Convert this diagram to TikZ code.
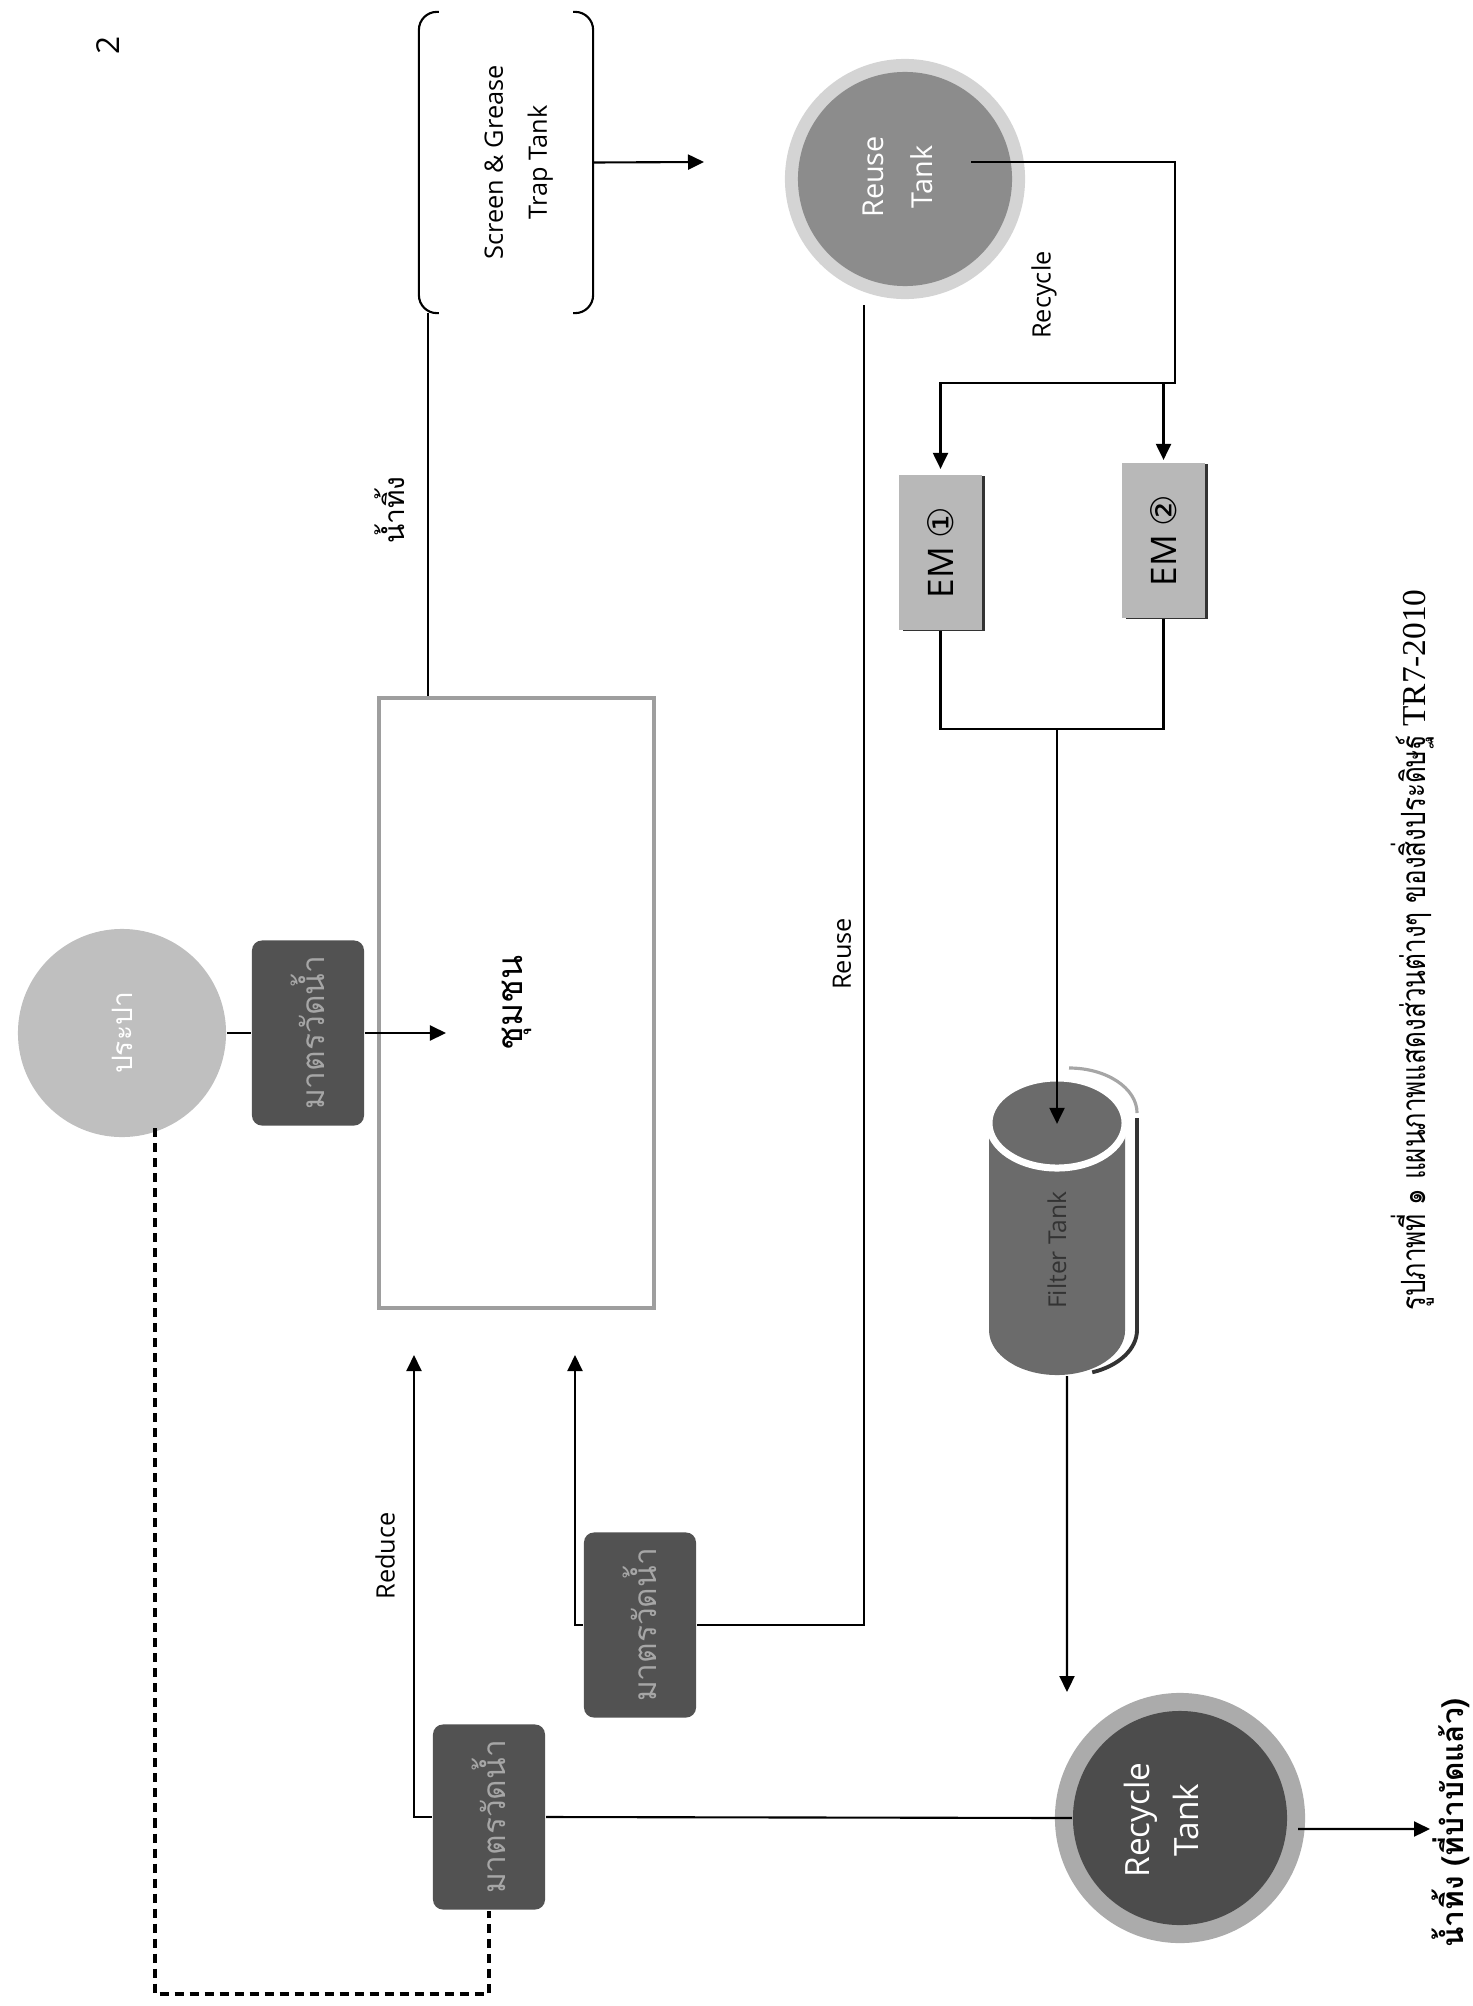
\documentclass[tikz,border=0pt]{standalone}
\usepackage{fontspec}
\setmainfont{Open Sans}
\newfontfamily\thaifont[Script=Thai]{Loma}
\newfontfamily\capthai[Script=Thai, FakeStretch=0.78]{Loma}
\newfontfamily\dejavu{DejaVu Sans}
\newfontfamily\capserif{Liberation Serif}
\usetikzlibrary{arrows.meta,shadows}
\begin{document}
\begin{tikzpicture}[x=0.01cm,y=-0.01cm, line width=0.6pt,
  arr/.style={-{Triangle[length=0.16cm,width=0.15cm]}},
  meter/.style={rounded corners=0.1cm, fill=black!68, minimum width=1.12cm, minimum height=1.85cm, inner sep=0pt, text=black!35, font=\thaifont\fontsize{9}{11}\selectfont},
  emb/.style={fill=black!28, minimum width=0.82cm, minimum height=1.55cm, inner sep=0pt, font=\fontsize{10}{12}\selectfont, drop shadow={shadow xshift=0.035cm, shadow yshift=-0.01cm, opacity=1, fill=black!80}},
  lbl/.style={font=\fontsize{7.2}{9}\selectfont, inner sep=0pt},
  tank/.style={circle, inner sep=0pt, text=white},
  tanktext/.style={inner sep=0pt, text=white},
  dline/.style={line width=1pt, dash pattern=on 0.09cm off 0.06cm},
]
\useasboundingbox (0,0) rectangle (1473,2006);

% page number
\node[inner sep=0pt, font=\fontsize{9}{11}\selectfont] (pg) at (108,45) {\rotatebox{90}{2}};

% Screen & Grease trap tank
\node[minimum width=1.72cm, minimum height=2.99cm, inner sep=0pt] (scr) at (506,162.5) {};
\node[inner sep=0pt, font=\fontsize{7.2}{12.5}\selectfont] (scrt) at (516,162.5)
  {\rotatebox{90}{\begin{tabular}{@{}c@{}}Screen \& Grease\\Trap Tank\end{tabular}}};
\draw[rounded corners=0.18cm] ([xshift=0.2cm]scr.north west) -- (scr.north west) -- (scr.south west) -- ([xshift=0.2cm]scr.south west);
\draw[rounded corners=0.18cm] ([xshift=-0.2cm]scr.north east) -- (scr.north east) -- (scr.south east) -- ([xshift=-0.2cm]scr.south east);

% Reuse tank
\node[tank, minimum size=2.4cm, fill=black!17,
  path picture={\fill[black!45] (path picture bounding box.center) circle (1.07cm);}] (reuse) at (905,179) {};
\node[tanktext, font=\fontsize{8.2}{14}\selectfont] (reuset) at (898,177)
  {\rotatebox{90}{\begin{tabular}{@{}c@{}}Reuse\\Tank\end{tabular}}};

\node[lbl] (lrec) at (1044,295) {\rotatebox{90}{Recycle}};

% EM boxes
\node[emb] (em1) at (940.5,552.5) {\rotatebox{90}{EM {\dejavu ①}}};
\node[emb] (em2) at (1163.5,540.5) {\rotatebox{90}{EM {\dejavu ②}}};

% Filter tank (cylinder)
\fill[black!58] (989,1123) -- (989,1330) arc[start angle=180, end angle=360, x radius=0.68cm, y radius=0.45cm] -- (1125,1123) -- cycle;
\filldraw[fill=black!58, draw=white, line width=0.07cm] (1057,1123) ellipse [x radius=0.68cm, y radius=0.45cm];
\draw[black!35, line width=0.9pt] (1069,1068) arc[start angle=90, end angle=0, x radius=0.68cm, y radius=0.45cm];
\draw[black!80, line width=1.1pt] (1137,1118) -- (1137,1330) arc[start angle=0, end angle=-70, x radius=0.68cm, y radius=0.45cm];
\node[inner sep=0pt, minimum width=1.36cm, minimum height=2.5cm, text=black!80, font=\fontsize{7}{9}\selectfont] (filter) at (1057,1250)
  {\rotatebox{90}{Filter Tank}};

% Recycle tank
\node[tank, minimum size=2.5cm, fill=black!33,
  path picture={\fill[black!70] (path picture bounding box.center) circle (1.07cm);}] (recycle) at (1180,1818) {};
\node[tanktext, font=\fontsize{9.5}{14}\selectfont] (recyclet) at (1164,1820)
  {\rotatebox{90}{\begin{tabular}{@{}c@{}}Recycle\\Tank\end{tabular}}};
\node[inner sep=0pt, font=\thaifont\bfseries\fontsize{8.5}{10}\selectfont] (ltreated) at (1451,1823)
  {\rotatebox{90}{น้ำทิ้ง (ที่บำบัดแล้ว)}};

% tap water and community
\node[tank, minimum size=2.08cm, fill=black!25, font=\thaifont\fontsize{8}{10}\selectfont] (prapa) at (122,1033) {\rotatebox{90}{ประปา}};
\node[meter] (m3) at (308,1033) {\rotatebox{90}{มาตรวัดน้ำ}};
\node[draw=black!38, line width=0.04cm, fill=white, minimum width=2.75cm, minimum height=6.1cm, inner sep=0pt,
  font=\thaifont\fontsize{10}{12}\selectfont] (comm) at (516.5,1003) {\rotatebox{90}{ชุมชน}};
\node[inner sep=0pt, font=\thaifont\fontsize{8}{10}\selectfont] (lwaste) at (390,510) {\rotatebox{90}{น้ำทิ้ง}};

% meters
\node[meter] (m2) at (640,1625) {\rotatebox{90}{มาตรวัดน้ำ}};
\node[meter] (m1) at (489,1817) {\rotatebox{90}{มาตรวัดน้ำ}};
\node[lbl] (lred) at (385,1556) {\rotatebox{90}{Reduce}};
\node[lbl] (lreuse) at (842,954) {\rotatebox{90}{Reuse}};

% caption
\node[inner sep=0pt] (cap) at (1413,950)
  {\rotatebox{90}{\capthai\fontsize{9.5}{11}\selectfont รูปภาพที่ ๑ แผนภาพแสดงส่วนต่างๆ ของสิ่งประดิษฐ์ {\capserif TR7-2010}}};

% coordinates for free ends
\coordinate (a1) at (704,162);
\coordinate (sp) at (1175,383);
\coordinate (jn) at (1058,383);
\coordinate (jn2) at (1057,729);
\coordinate (rin) at (1067,1692);
\coordinate (out) at (1430,1829);
\coordinate (a2) at (446,1033);
\coordinate (a3) at (414,1355);
\coordinate (a4) at (575,1355);
\coordinate (dc) at (489,1994);

% connectors
\draw[arr] (scr.east) -- (a1);
\draw (reuse.center) ++(66,-17) -| (sp) -- (jn);
\draw[arr, shorten >=0.05cm] (jn) -| (em1.north);
\draw[arr, shorten >=0.02cm] (jn) -| (em2.north);
\draw (em1.south) |- (jn2);
\draw (em2.south) |- (jn2);
\draw[arr] (jn2) -- (filter.north);
\draw[arr] ([xshift=0.1cm]filter.south) -- (rin);
\draw[arr] ([xshift=-0.08cm,yshift=-0.11cm]recycle.east) -- (out);
\draw (prapa.east) -- (m3.west);
\draw[arr] (m3.east) -- (a2);
\draw ([xshift=0.09cm]scr.south west) -- ([xshift=0.09cm]scr.south west |- comm.north);
\draw[arr] (m1.west) -| (a3);
\draw[arr] (m2.west) -| (a4);
\draw (m2.east) -| ([xshift=-0.41cm,yshift=-0.05cm]reuse.south);
\draw (m1.east) -- ([xshift=0.18cm]recycle.west);
\draw[dline] ([xshift=0.33cm,yshift=0.1cm]prapa.south) |- (dc) -- (m1.south);
\end{tikzpicture}
\end{document}
